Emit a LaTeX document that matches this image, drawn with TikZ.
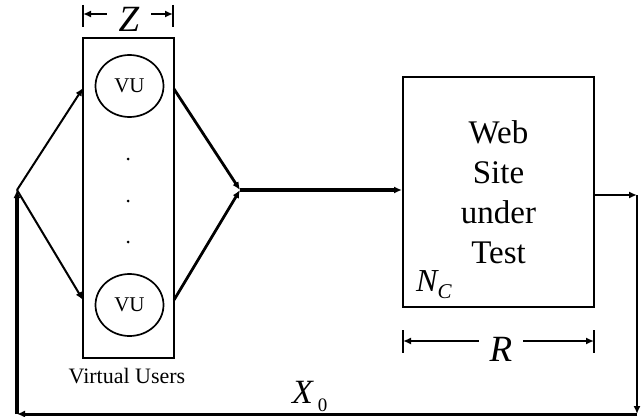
\documentclass[tikz,border=0pt]{standalone}
\usepackage{fontspec}
\setmainfont{Liberation Serif}
\usetikzlibrary{arrows.meta,positioning,shapes.geometric}

\begin{document}
\begin{tikzpicture}[x=1pt,y=-1pt,
  blk/.style={draw,line width=2pt,inner sep=0pt},
  vu/.style={draw,ellipse,line width=1.7pt,minimum width=68pt,minimum height=62pt,
             inner sep=0pt,font=\fontsize{21}{21}\selectfont},
  dot/.style={circle,fill,inner sep=0pt,minimum size=3pt},
  flow/.style={-{Latex[length=8pt,width=7pt]},line width=2pt},
  heavy/.style={flow,line width=3.4pt},
  tick/.style={line width=2.2pt},
  dim/.style={-{Latex[length=8pt,width=7pt]},line width=2.2pt},
  lbl/.style={anchor=base,inner sep=0pt}
]
\useasboundingbox (0,0) rectangle (642,417);

%------ virtual users ---------------------------------------------------------
\node[blk,minimum width=91pt,minimum height=320pt] (vubox) at (128.5,198) {};
\node[vu] (vu1) at (129.5,86)  {VU};
\node[vu] (vu2) at (129.5,305) {VU};
\foreach \i/\y in {1/159,2/201,3/242}
  \node[dot] (d\i) at (128,\y) {};
\node[lbl,font=\fontsize{22}{22}\selectfont] (vulbl) at (127,383) {Virtual Users};

%------ web site --------------------------------------------------------------
\node[blk,minimum width=191pt,minimum height=230pt,align=center,
      font=\fontsize{33}{40}\selectfont] (web) at (498.5,192) {Web\\Site\\under\\Test};
\node[anchor=base west,inner sep=0pt,font=\fontsize{32}{32}\selectfont] (nc) at (416,291)
      {\itshape N\raisebox{-7pt}{\fontsize{21}{21}\selectfont C}};

%------ corners of the loop ---------------------------------------------------
\coordinate (fork) at (17,190);
\coordinate (join) at (240,190);
\coordinate (in1)  at (83,88);
\coordinate (in2)  at (83,300);
\coordinate (out1) at (174,89);
\coordinate (out2) at (174,300);
\coordinate (wout) at (594,195);
\coordinate (ret)  at (637,195);
\coordinate (br)   at (637,414);
\coordinate (bl)   at (17,414);

\draw[flow] (fork) -- (in1);
\draw[flow] (fork) -- (in2);
\draw[heavy,line width=2.8pt] (out1) -- (join);
\draw[heavy,line width=2.8pt] (out2) -- (join);
\draw[heavy] (join) -- (web.west |- join);
\draw[flow,line width=2.2pt] (wout) -- (ret);
\draw[flow,line width=2.6pt] (ret) -- (br);
\draw[flow,line width=3pt] (br) -- (bl);
\draw[flow,line width=3.8pt] (bl) -- (fork);
\node[anchor=base west,inner sep=0pt,font=\fontsize{34}{34}\selectfont] (x0) at (292,403)
      {\itshape X\hspace{5pt}\raisebox{-8pt}{\upshape\fontsize{19}{19}\selectfont 0}};

%------ think time Z ----------------------------------------------------------
\coordinate (zl) at (83,14);
\coordinate (zr) at (173,14);
\draw[tick] (83,5) -- (83,27);
\draw[tick] (173,5) -- (173,27);
\node[inner sep=0pt,minimum width=44pt,font=\fontsize{37}{37}\selectfont] (zlbl) at (129,19) {\itshape Z};
\draw[dim] (zlbl.west |- zl) -- (zl);
\draw[dim] (zlbl.east |- zr) -- (zr);

%------ response time R -------------------------------------------------------
\coordinate (rl) at (403,341);
\coordinate (rr) at (594,341);
\draw[tick] (403,330) -- (403,353);
\draw[tick] (594,330) -- (594,353);
\node[inner sep=0pt,minimum width=44pt,font=\fontsize{37}{37}\selectfont] (rlbl) at (501,349.5) {\itshape R};
\draw[dim] (rlbl.west |- rl) -- (rl);
\draw[dim] (rlbl.east |- rr) -- (rr);
\end{tikzpicture}
\end{document}
